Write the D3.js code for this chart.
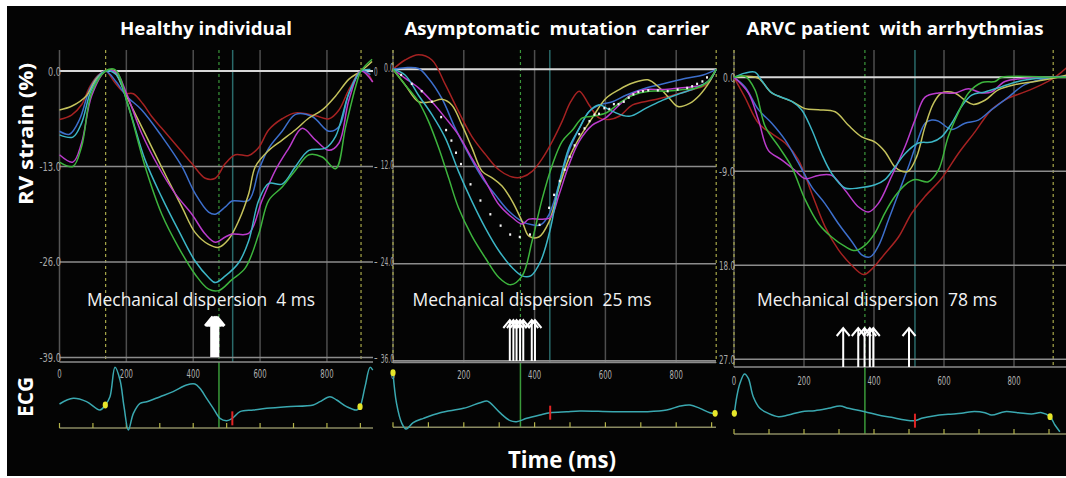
<!DOCTYPE html>
<html><head><meta charset="utf-8">
<script src="https://cdn.jsdelivr.net/npm/d3@7"></script>
<style>html,body{margin:0;padding:0;background:#fff;} svg{display:block;}</style>
</head><body><svg id="c" width="1066" height="478"></svg>
<script>
// ---------------- DATA ----------------
const panelTitles = ["Healthy individual", "Asymptomatic  mutation  carrier", "ARVC patient  with arrhythmias"];
const dispersionLabels = ["Mechanical dispersion  4 ms", "Mechanical dispersion  25 ms", "Mechanical dispersion  78 ms"];
const timeTicks = [0, 200, 400, 600, 800];
const healthyStrainTicks = [0, -13, -26, -39];
const carrierStrainTicks = [0, -12, -24, -36];
const arvcStrainTicks = [0, -9, -18, -27];
const segmentNames = ["red", "blue", "yellow", "magenta", "cyan", "green"];

// Healthy individual: [time ms, strain %]
const healthyRed = [[0,-6.6],[36,-6.0],[66,-4.6],[90,-2.2],[115,-0.6],[138,0],[166,-1.6],[196,-3.0],[221,-3.1],[250,-4.5],[276,-6.2],[306,-7.8],[336,-9.4],[366,-11.0],[396,-12.6],[436,-14.6],[466,-14.6],[496,-12.6],[526,-11.4],[566,-11.5],[596,-10.4],[626,-8.0],[666,-6.5],[706,-5.7],[766,-6.1],[806,-6.5],[836,-5.3],[866,-2.5],[902,0],[920,-0.3],[937,-1.5]];
const healthyBlue = [[0,-8.2],[30,-8.6],[60,-6.6],[90,-2.5],[115,-0.7],[138,0],[170,-1.5],[200,-3.4],[246,-5.3],[306,-8.9],[366,-13.0],[406,-16.7],[446,-19.2],[466,-19.5],[496,-18.5],[516,-17.7],[566,-17.6],[596,-13.5],[626,-10.5],[666,-8.2],[706,-5.9],[756,-6.2],[806,-8.2],[836,-7.6],[866,-3.0],[902,0],[930,-0.5]];
const healthyYellow = [[0,-5.3],[36,-4.8],[80,-3.4],[110,-1.1],[138,0],[160,0.1],[200,-3.4],[260,-8.9],[320,-14.4],[366,-18.5],[406,-22.0],[446,-23.6],[476,-24.0],[506,-22.9],[536,-20.4],[566,-16.7],[586,-13.0],[626,-10.8],[666,-9.4],[706,-8.0],[746,-6.4],[786,-5.3],[826,-3.4],[866,-1.1],[902,0],[935,1.3]];
const healthyMagenta = [[0,-11.4],[40,-12.4],[66,-9.8],[96,-3.4],[138,0],[170,-0.2],[200,-3.0],[246,-8.5],[296,-13.0],[346,-16.7],[396,-19.5],[436,-22.2],[466,-23.3],[496,-22.6],[516,-22.2],[566,-22.1],[606,-17.6],[646,-13.5],[686,-10.5],[726,-7.8],[766,-9.4],[806,-10.8],[836,-9.8],[866,-3.9],[902,0],[937,-1.5]];
const healthyCyan = [[0,-8.7],[40,-9.0],[66,-7.1],[96,-2.5],[138,0],[170,-0.5],[206,-4.8],[256,-12.1],[306,-17.2],[356,-21.7],[406,-25.9],[446,-28.1],[466,-28.8],[496,-27.9],[536,-26.1],[566,-23.1],[596,-17.6],[626,-15.3],[666,-15.4],[706,-13.0],[746,-10.8],[796,-10.5],[826,-8.9],[866,-3.0],[902,0],[930,0.2]];
const healthyGreen = [[0,-12.4],[40,-13.0],[66,-10.3],[96,-3.0],[138,0],[166,0.2],[206,-4.8],[256,-13.0],[306,-19.5],[356,-24.0],[406,-27.7],[446,-29.7],[476,-29.9],[516,-28.4],[556,-26.8],[596,-22.2],[626,-17.6],[666,-15.8],[706,-13.5],[746,-11.4],[786,-11.7],[826,-13.3],[856,-7.6],[886,-2.1],[902,0],[935,1.6]];

// Asymptomatic mutation carrier
const carrierRed = [[0,0],[34,1.15],[72,1.8],[110,1.15],[148,-1.9],[185,-5.2],[223,-8.3],[261,-10.5],[299,-12.4],[337,-13.3],[365,-13.3],[393,-12.6],[422,-11.0],[450,-8.9],[478,-6.4],[502,-4.0],[526,-2.7],[554,-4.4],[582,-6.0],[611,-6.2],[639,-5.8],[677,-4.4],[734,-3.8],[791,-3.2],[847,-2.5],[885,-1.9],[913,0]];
const carrierBlue = [[0,0],[34,0.2],[72,0.1],[100,-1.1],[138,-3.6],[176,-7.3],[214,-10.5],[252,-13.4],[289,-15.5],[327,-17.5],[365,-18.8],[393,-19.2],[417,-19.2],[441,-17.9],[469,-14.2],[497,-10.1],[526,-7.3],[554,-5.2],[582,-4.4],[620,-4.0],[658,-3.2],[715,-2.3],[772,-1.7],[828,-1.1],[876,-0.7],[913,0]];
const carrierYellow = [[0,0],[34,-1.9],[72,-4.0],[110,-4.0],[138,-3.7],[166,-4.4],[195,-6.9],[223,-9.7],[252,-12.6],[280,-13.4],[308,-14.4],[337,-16.3],[365,-18.8],[384,-20.6],[412,-20.7],[441,-18.8],[469,-14.6],[497,-11.0],[526,-8.5],[563,-6.0],[601,-3.6],[639,-2.5],[677,-1.7],[720,-1.3],[753,-2.3],[781,-3.6],[805,-4.6],[838,-4.2],[866,-3.2],[895,-1.5],[913,0]];
const carrierMagenta = [[0,0],[34,-1.1],[72,-2.3],[110,-4.0],[148,-6.0],[185,-8.1],[223,-11.0],[261,-13.8],[299,-16.7],[337,-18.3],[365,-19.1],[384,-18.5],[422,-18.5],[445,-18.3],[469,-15.5],[497,-11.8],[526,-8.9],[563,-6.9],[601,-6.0],[639,-4.4],[677,-3.0],[715,-2.5],[762,-2.5],[810,-2.3],[857,-2.1],[885,-1.7],[913,0]];
const carrierCyan = [[0,0],[34,-0.7],[72,-3.2],[110,-5.6],[148,-8.5],[185,-12.6],[223,-16.3],[261,-19.6],[299,-22.4],[337,-24.5],[365,-25.5],[389,-25.5],[417,-23.7],[445,-19.6],[469,-14.2],[497,-9.7],[526,-7.3],[554,-5.2],[582,-4.4],[620,-5.2],[667,-5.8],[715,-4.8],[762,-3.8],[810,-3.0],[857,-2.3],[895,-1.3],[913,0]];
const carrierGreen = [[0,0],[34,-1.9],[72,-4.0],[100,-6.4],[129,-9.7],[157,-13.4],[185,-17.1],[223,-20.6],[261,-23.3],[299,-25.7],[332,-26.6],[365,-25.5],[393,-21.2],[422,-15.9],[450,-11.8],[478,-8.9],[507,-7.5],[535,-6.0],[563,-5.8],[601,-5.4],[639,-4.2],[677,-3.2],[724,-2.7],[772,-2.7],[819,-2.5],[857,-2.3],[885,-1.7],[913,0]];
const carrierAverage = [[23,-0.7],[53,-1.8],[81,-2.7],[110,-4.0],[136,-5.9],[150,-7.5],[165,-8.8],[178,-10.3],[192,-11.7],[219,-14.2],[247,-16.2],[275,-17.9],[304,-19.3],[331,-20.4],[358,-20.7],[387,-20.4],[414,-19.2],[441,-17.1],[455,-15.5],[471,-13.8],[485,-12.4],[499,-10.8],[513,-9.4],[526,-8.0],[541,-7.3],[555,-6.4],[569,-5.6],[582,-5.5],[597,-4.8],[611,-4.9],[624,-4.3],[637,-4.3],[652,-4.0],[666,-3.5],[679,-3.1],[693,-2.8],[706,-2.7],[721,-2.6],[748,-2.6],[776,-2.7],[804,-2.5],[831,-2.3],[845,-2.1],[859,-1.8],[874,-1.5],[887,-1.0]];

// ARVC patient with arrhythmias
const arvcRed = [[0,0],[31,-1.9],[70,-4.4],[108,-5.4],[146,-6.3],[184,-7.9],[222,-11.1],[260,-14.3],[298,-16.5],[336,-18.0],[370,-18.9],[393,-18.4],[431,-16.9],[470,-15.3],[508,-13.0],[546,-11.4],[593,-9.7],[641,-7.3],[689,-5.2],[736,-3.1],[784,-2.0],[831,-1.4],[879,-0.7],[912,-0.1],[936,0.5],[950,0.9]];
const arvcBlue = [[0,0],[31,-0.9],[70,-3.1],[108,-4.4],[146,-6.0],[184,-8.2],[222,-10.5],[260,-12.1],[298,-14.0],[336,-15.7],[365,-17.0],[389,-17.2],[412,-16.2],[441,-13.7],[470,-11.1],[498,-8.6],[522,-6.3],[546,-4.4],[565,-4.1],[584,-4.2],[622,-5.0],[660,-4.4],[698,-4.1],[736,-3.1],[784,-1.9],[831,-0.7],[912,0],[950,0.1]];
const arvcYellow = [[0,0],[31,0.1],[70,-0.1],[108,-1.5],[165,-2.3],[203,-3.0],[241,-3.1],[289,-3.3],[327,-4.6],[365,-5.7],[403,-6.2],[431,-7.1],[460,-8.6],[479,-9.0],[498,-9.0],[522,-7.6],[546,-4.7],[570,-2.5],[593,-1.5],[631,-1.5],[660,-2.2],[684,-2.6],[717,-2.2],[755,-1.2],[803,-0.7],[860,-0.4],[912,-0.1],[950,0.2]];
const arvcMagenta = [[0,0],[41,-1.5],[70,-4.1],[98,-7.0],[136,-7.9],[174,-8.9],[203,-9.7],[241,-9.4],[279,-9.4],[317,-10.8],[355,-12.4],[384,-12.9],[412,-12.1],[450,-9.5],[489,-6.6],[517,-4.1],[546,-1.9],[584,-1.5],[631,-1.5],[670,-1.1],[708,-1.5],[736,-1.4],[774,-0.4],[831,-0.1],[912,0],[950,0]];
const arvcCyan = [[0,0],[31,0.4],[60,0.5],[79,-0.3],[108,-1.5],[165,-2.3],[193,-3.1],[222,-5.0],[250,-7.3],[279,-9.2],[317,-10.6],[355,-10.6],[403,-10.3],[431,-9.8],[460,-8.6],[489,-7.3],[527,-6.3],[565,-6.2],[593,-5.7],[622,-4.4],[650,-2.8],[679,-1.7],[717,-1.4],[765,-0.9],[812,-0.4],[870,-0.1],[912,0],[950,0]];
const arvcGreen = [[0,0],[31,0.1],[60,-1.2],[89,-4.7],[127,-6.6],[165,-8.6],[203,-11.7],[241,-14.0],[279,-15.3],[317,-16.2],[346,-16.6],[374,-16.1],[403,-14.9],[431,-13.0],[460,-11.4],[489,-10.3],[517,-9.8],[555,-10.0],[584,-8.9],[612,-5.7],[641,-3.4],[670,-1.5],[708,-0.5],[746,-0.4],[765,0],[912,0],[950,0]];

// ECG traces: [time ms, amplitude (arbitrary units)]
const healthyEcg = [[0,0.78],[41,0.95],[81,0.85],[121,0.60],[137,0.75],[151,1.00],[166,1.88],[181,1.50],[193,0.70],[206,0.0],[221,0.5],[241,0.8],[261,0.85],[301,1.0],[340,1.15],[380,1.35],[405,1.38],[420,1.25],[440,0.95],[460,0.65],[480,0.35],[500,0.28],[517,0.35],[540,0.55],[580,0.60],[620,0.65],[680,0.70],[759,0.75],[779,0.85],[809,1.00],[829,0.90],[859,0.70],[889,0.60],[899,0.70],[914,1.30],[929,1.88],[937,1.80]];
const carrierEcg = [[0,1.72],[10,0.8],[25,0.2],[37,0.03],[57,0.22],[86,0.35],[133,0.52],[199,0.65],[246,0.82],[265,0.87],[274,0.82],[302,0.52],[331,0.28],[349,0.25],[378,0.35],[415,0.45],[444,0.52],[491,0.55],[528,0.57],[622,0.55],[717,0.55],[773,0.60],[811,0.72],[839,0.75],[867,0.65],[895,0.52],[910,0.50]];
const arvcEcg = [[1,0.62],[8,1.12],[17,1.52],[30,1.80],[41,1.67],[55,1.12],[74,0.77],[98,0.62],[127,0.52],[155,0.57],[193,0.67],[231,0.70],[270,0.77],[303,0.84],[327,0.77],[374,0.67],[412,0.57],[450,0.50],[489,0.42],[517,0.40],[536,0.47],[574,0.55],[612,0.59],[650,0.62],[679,0.67],[717,0.64],[736,0.57],[774,0.67],[812,0.64],[850,0.60],[879,0.64],[903,0.52],[917,0.27],[931,0.07]];

// Event times (ms)
const healthyValveEvents = [138, 902];
const carrierValveEvents = [0, 913];
const arvcValveEvents = [0, 912];
const healthyEcgDots = [137, 899];
const carrierEcgDots = [0, 910];
const arvcEcgDots = [1, 903];
const healthyMarkers = {green: 477, teal: 518, red: 517};
const carrierMarkers = {green: 360, teal: 443, red: 444};
const arvcMarkers = {green: 374, teal: 517, red: 517};
// Time-to-peak arrows (ms)
const healthyPeaks = [455, 459, 463, 466, 470, 474];
const carrierPeaks = [330, 340, 349, 359, 368, 392, 401];
const arvcPeaks = [312, 355, 373, 388, 398, 500];

// ---------------- STYLE / LAYOUT ----------------
const colors = {red:"#a52222", blue:"#3d6fcc", yellow:"#c4c25c", magenta:"#bb3ccc", cyan:"#3cb6c6", green:"#3db43d"};
const mainFont = "'Open Sans', Lato, sans-serif";
const condFont = "'DejaVu Sans Condensed','Liberation Sans Narrow','Roboto',sans-serif";
const layout = [
  {titleX:206, titleW:172, clip:[38,378], x0:59.5, pxMs:0.3343, xEnd:373, tMax:940, yZero:71, yUnit:7.346, ticks:healthyStrainTicks, yBottom:362, ecgZero:430, ecgBase:428, tickY:373, dispX:201, dispW:228, arrowTop:318, arrowBottom:357,
   leftLab:t=>t.toFixed(1), leftW:4.3, leftX:61, leftDy:4.5, rightLab:t=>t.toFixed(1).slice(0,1), rightX:374,
   curves:[healthyRed,healthyBlue,healthyYellow,healthyMagenta,healthyCyan,healthyGreen], ecg:healthyEcg, valves:healthyValveEvents, dots:healthyEcgDots, markers:healthyMarkers, peaks:healthyPeaks, arrowW:2.8},
  {titleX:557, titleW:305, clip:[380,718], x0:393, pxMs:0.354, xEnd:716, tMax:915, yZero:69.3, yUnit:8.1, ticks:carrierStrainTicks, yBottom:362.5, ecgZero:430, ecgBase:427.3, tickY:374, dispX:532, dispW:239, arrowTop:320, arrowBottom:361,
   leftLab:t=>Math.abs(t).toFixed(1), leftW:3.3, leftX:394, leftDy:2.5, rightLab:null,
   curves:[carrierRed,carrierBlue,carrierYellow,carrierMagenta,carrierCyan,carrierGreen], avg:carrierAverage, ecg:carrierEcg, valves:carrierValveEvents, dots:carrierEcgDots, markers:carrierMarkers, peaks:carrierPeaks, arrowW:2},
  {titleX:895, titleW:297, clip:[718,1066], x0:734, pxMs:0.35, xEnd:1070, tMax:960, yZero:77.3, yUnit:10.44, ticks:arvcStrainTicks, yBottom:367, ecgZero:434, ecgBase:434, tickY:380, dispX:877, dispW:240, arrowTop:328, arrowBottom:367,
   leftLab:t=>(t>-10?t.toFixed(1):Math.abs(t).toFixed(1)), leftW:4.0, leftX:735, leftDy:4.5, rightLab:null,
   curves:[arvcRed,arvcBlue,arvcYellow,arvcMagenta,arvcCyan,arvcGreen], ecg:arvcEcg, valves:arvcValveEvents, dots:arvcEcgDots, markers:arvcMarkers, peaks:arvcPeaks, arrowW:2}
];

const svg = d3.select("#c");
svg.append("rect").attr("x",7).attr("y",6).attr("width",1059).attr("height",470).attr("fill","#040404");
const defs = svg.append("defs");

layout.forEach((L, i) => {
  const x = d3.scaleLinear().domain([0,1000]).range([L.x0, L.x0 + 1000*L.pxMs]);
  const yMin = L.ticks[L.ticks.length-1];
  const y = d3.scaleLinear().domain([0, yMin]).range([L.yZero, L.yZero + (-yMin)*L.yUnit]);
  const ye = d3.scaleLinear().domain([0, 1.9]).range([L.ecgZero, L.ecgZero - 63.3]);
  const yTop = 50;

  defs.append("clipPath").attr("id","clip"+i).append("rect")
    .attr("x",L.clip[0]).attr("y",40).attr("width",L.clip[1]-L.clip[0]).attr("height",440);
  const g = svg.append("g").attr("clip-path","url(#clip"+i+")");

  // title
  svg.append("text").attr("x",L.titleX).attr("y",35).attr("text-anchor","middle")
    .attr("fill","#fff").attr("font-family",mainFont).attr("font-weight","bold")
    .attr("font-size",17).attr("textLength",L.titleW).attr("lengthAdjust","spacingAndGlyphs")
    .style("white-space","pre").text(panelTitles[i]);

  // vertical grid lines
  g.append("line").attr("x1",L.x0).attr("x2",L.x0).attr("y1",yTop).attr("y2",L.yBottom).attr("stroke","#555").attr("stroke-width",1.5);
  g.selectAll(".vg").data(timeTicks.filter(d=>d>0)).join("line")
    .attr("x1",d=>x(d)).attr("x2",d=>x(d)).attr("y1",yTop).attr("y2",L.yBottom)
    .attr("stroke","#4e4e4e").attr("stroke-width",1.5);
  g.selectAll(".vv").data(L.valves).join("line")
    .attr("x1",d=>x(d)).attr("x2",d=>x(d)).attr("y1",yTop).attr("y2",L.yBottom)
    .attr("stroke","#a8a84a").attr("stroke-width",1.2).attr("stroke-dasharray","3,3");
  g.append("line").attr("x1",x(L.markers.green)).attr("x2",x(L.markers.green)).attr("y1",yTop).attr("y2",L.yBottom)
    .attr("stroke","#3a963a").attr("stroke-width",1.2).attr("stroke-dasharray","3,3");
  g.append("line").attr("x1",x(L.markers.green)).attr("x2",x(L.markers.green)).attr("y1",L.yBottom).attr("y2",L.ecgBase)
    .attr("stroke","#3a9a3a").attr("stroke-width",1.5);
  g.append("line").attr("x1",x(L.markers.teal)).attr("x2",x(L.markers.teal)).attr("y1",yTop).attr("y2",L.yBottom)
    .attr("stroke","#2a6a6a").attr("stroke-width",1.5);

  // horizontal grid lines
  g.selectAll(".hg").data(L.ticks).join("line")
    .attr("x1",L.x0).attr("x2",L.xEnd).attr("y1",d=>y(d)).attr("y2",d=>y(d))
    .attr("stroke",d=>d===0?"#d8d8d8":"#8c8c8c").attr("stroke-width",d=>d===0?2:1.6);
  g.append("line").attr("x1",L.x0).attr("x2",L.xEnd).attr("y1",L.yBottom).attr("y2",L.yBottom)
    .attr("stroke","#8c8c8c").attr("stroke-width",1.6);
  // y tick labels
  g.selectAll(".yl").data(L.ticks).join("text")
    .attr("x",L.leftX).attr("y",d=>y(d)+L.leftDy).attr("text-anchor","end")
    .attr("fill","#a8a8a8").attr("font-family",condFont).attr("font-size",12)
    .attr("textLength",d=>L.leftLab(d).length*L.leftW).attr("lengthAdjust","spacingAndGlyphs").text(L.leftLab);
  if (L.rightLab) {
    g.selectAll(".yr").data(L.ticks).join("text")
      .attr("x",L.rightX).attr("y",d=>y(d)+4.5).attr("text-anchor","start")
      .attr("fill","#a8a8a8").attr("font-family",condFont).attr("font-size",12)
      .attr("textLength",d=>L.rightLab(d).length*3.6).attr("lengthAdjust","spacingAndGlyphs").text(L.rightLab);
  }

  // strain curves
  const line = d3.line().x(d=>x(d[0])).y(d=>y(d[1])).curve(d3.curveCatmullRom.alpha(0.5));
  L.curves.forEach((c, k) => {
    g.append("path").attr("d",line(c)).attr("fill","none")
      .attr("stroke",colors[segmentNames[k]]).attr("stroke-width",1.5);
  });
  if (L.avg) {
    g.selectAll(".av").data(L.avg).join("rect")
      .attr("x",d=>x(d[0])-1).attr("y",d=>y(d[1])-1.2).attr("width",2).attr("height",2.4).attr("fill","#f4f4f4");
  }

  // x tick labels
  g.selectAll(".xl").data(timeTicks).join("text")
    .attr("x",d=>x(d)).attr("y",L.tickY+5).attr("text-anchor","middle")
    .attr("fill","#b0b0b0").attr("font-family",condFont).attr("font-size",13)
    .attr("textLength",d=>String(d).length*4.4).attr("lengthAdjust","spacingAndGlyphs").text(d=>d);

  // ECG baseline + ticks
  g.append("line").attr("x1",L.x0).attr("x2",L.xEnd).attr("y1",L.ecgBase).attr("y2",L.ecgBase)
    .attr("stroke","#8a8a62").attr("stroke-width",1.5);
  g.selectAll(".et").data(d3.range(0, L.tMax, 100)).join("line")
    .attr("x1",d=>x(d)).attr("x2",d=>x(d)).attr("y1",L.ecgBase).attr("y2",L.ecgBase-5)
    .attr("stroke","#b4b44a").attr("stroke-width",1.2);
  const eline = d3.line().x(d=>x(d[0])).y(d=>ye(d[1])).curve(d3.curveCatmullRom.alpha(0.5));
  g.append("path").attr("d",eline(L.ecg)).attr("fill","none").attr("stroke","#3aa8b0").attr("stroke-width",1.5);
  const ecgAt = t => { const b = d3.bisector(d=>d[0]).left(L.ecg, t); const a = L.ecg[Math.max(0,b-1)], c = L.ecg[Math.min(L.ecg.length-1,b)]; const f = c[0]===a[0]?0:(t-a[0])/(c[0]-a[0]); return a[1]+(c[1]-a[1])*f; };
  const rv = ye(ecgAt(L.markers.red));
  g.append("line").attr("x1",x(L.markers.red)).attr("x2",x(L.markers.red)).attr("y1",rv-7).attr("y2",rv+7)
    .attr("stroke","#e02424").attr("stroke-width",2);
  g.selectAll(".ed").data(L.dots).join("ellipse")
    .attr("cx",d=>x(d)).attr("cy",d=>ye(ecgAt(d))).attr("rx",2.6).attr("ry",3.4)
    .attr("fill","#e6e62a");

  // dispersion label
  svg.append("text").attr("x",L.dispX).attr("y",306).attr("text-anchor","middle")
    .attr("fill","#f2f2f2").attr("font-family",mainFont).attr("font-size",17.5)
    .attr("textLength",L.dispW).attr("lengthAdjust","spacingAndGlyphs")
    .style("white-space","pre").text(dispersionLabels[i]);

  // arrows at time-to-peak
  g.selectAll(".ar").data(L.peaks).join("path")
    .attr("d",d=>{const px=x(d); return `M${px},${L.arrowBottom}V${L.arrowTop}M${px-6.5},${L.arrowTop+8}L${px},${L.arrowTop}L${px+6.5},${L.arrowTop+8}`;})
    .attr("fill","none").attr("stroke","#fff").attr("stroke-width",L.arrowW);
});

// axis titles
svg.append("text").attr("transform","translate(33,134) rotate(-90)").attr("text-anchor","middle")
  .attr("fill","#fff").attr("font-family",mainFont).attr("font-weight","bold").attr("font-size",20)
  .attr("textLength",142).attr("lengthAdjust","spacingAndGlyphs").text("RV strain (%)");
svg.append("text").attr("transform","translate(33,397) rotate(-90)").attr("text-anchor","middle")
  .attr("fill","#fff").attr("font-family",mainFont).attr("font-weight","bold").attr("font-size",22)
  .attr("textLength",40).attr("lengthAdjust","spacingAndGlyphs").text("ECG");
svg.append("text").attr("x",562).attr("y",468).attr("text-anchor","middle")
  .attr("fill","#fff").attr("font-family",mainFont).attr("font-weight","bold").attr("font-size",23)
  .attr("textLength",108).attr("lengthAdjust","spacingAndGlyphs").text("Time (ms)");
</script></body></html>
